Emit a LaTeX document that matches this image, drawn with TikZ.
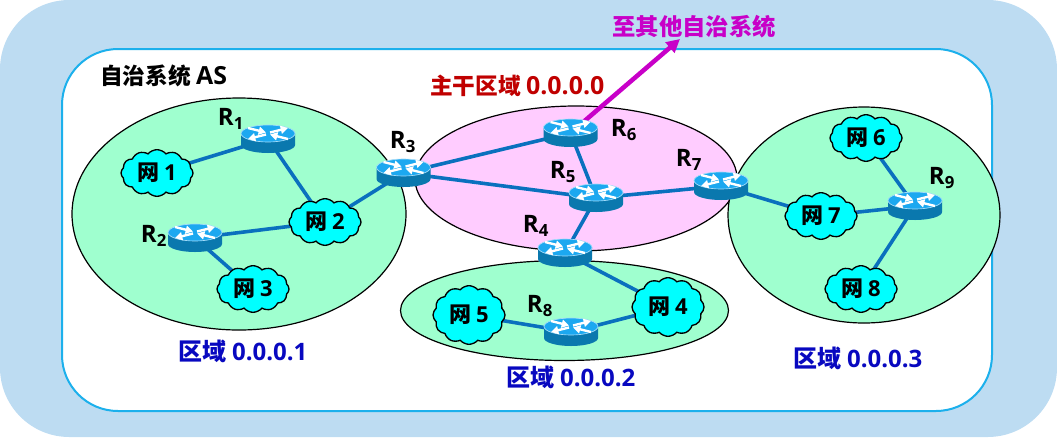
\documentclass[tikz,border=0pt]{standalone}
\usepackage{fontspec}
\setmainfont{Noto Sans CJK SC}
\newfontfamily\lat{Open Sans}
\newfontfamily\latbig[Scale=1.1]{Open Sans}
\usetikzlibrary{shapes.symbols,shapes.geometric,arrows.meta}
\pgfdeclarelayer{areas}
\pgfdeclarelayer{links}
\pgfsetlayers{areas,links,main}
\definecolor{bgblue}{HTML}{BDDCF2}
\definecolor{asline}{HTML}{1CB0EC}
\definecolor{areagreen}{HTML}{9FFFCF}
\definecolor{areapink}{HTML}{FFCCFF}
\definecolor{linkblue}{HTML}{0A70BE}
\definecolor{cloudcyan}{HTML}{00FFFF}
\definecolor{rtop}{HTML}{1CA8F0}
\definecolor{rside}{HTML}{0A78AE}
\definecolor{titlered}{HTML}{C00000}
\definecolor{areablue}{HTML}{0808C0}
\definecolor{arrowmag}{HTML}{C800C8}
\tikzset{
  x=0.75pt,y=-0.75pt,
  area/.style={draw=black,line width=0.9pt},
  rnode/.style={inner sep=0pt,minimum width=39pt,minimum height=20pt,ellipse},
  link/.style={draw=linkblue,line width=2.7pt},
  net/.style={cloud,cloud puffs=12,cloud puff arc=100,cloud ignores aspect,draw=black,fill=cloudcyan,line width=1pt,inner sep=0pt,minimum width=54pt,minimum height=35pt,font=\fontsize{16.5}{17}\selectfont\bfseries},
  nettall/.style={net,minimum height=44pt},
  rlabel/.style={font=\lat\fontsize{18}{19}\selectfont\bfseries,inner sep=0pt},
  arealabel/.style={font=\fontsize{18}{19}\selectfont\bfseries,inner sep=0pt,text=areablue},
  rarrow/.style={white,line width=1.8pt,-{Triangle[length=5.5pt,width=6pt]}},
}
\newcommand{\drawrouter}[1]{%
  \begin{scope}[shift={(#1)}]
    \fill[rside] (-27,-5.5) -- (-27,6) arc[start angle=180,end angle=0,x radius=27,y radius=8] -- (27,-5.5) -- cycle;
    \fill[rtop,draw=white!60!rtop,line width=0.5pt] (0,-5.5) ellipse[x radius=27,y radius=8.5];
    \draw[rarrow] (2,-6.5) -- (20,-11);
    \draw[rarrow] (-2,-4.5) -- (-20,0);
    \draw[rarrow] (-20,-11) -- (-2,-6.5);
    \draw[rarrow] (20,0) -- (2,-4.5);
  \end{scope}}
\begin{document}
\begin{tikzpicture}
\useasboundingbox (0,0) rectangle (1057,437);
\begin{pgfonlayer}{areas}
\fill[bgblue,rounded corners=52pt] (0,0) rectangle (1057,437);
\draw[asline,fill=white,line width=1.5pt,rounded corners=42pt] (62,49) rectangle (992,411);
\draw[area,fill=areagreen] (239,214) ellipse[x radius=167,y radius=116];
\draw[area,fill=areapink] (576,178.5) ellipse[x radius=161,y radius=72.5];
\draw[area,fill=areagreen] (564.5,310.5) ellipse[x radius=164,y radius=50];
\draw[area,fill=areagreen] (864,215) ellipse[x radius=136,y radius=108];
\end{pgfonlayer}
\node[rnode] (r1) at (268,139) {};
\node[rnode] (r2) at (195,238) {};
\node[rnode] (r3) at (403.5,173) {};
\node[rnode] (r4) at (565,253) {};
\node[rnode] (r5) at (596,198) {};
\node[rnode] (r6) at (570.5,133) {};
\node[rnode] (r7) at (721,186) {};
\node[rnode] (r8) at (571,332) {};
\node[rnode] (r9) at (915,206) {};
\node[net] (n1) at (157,173) {网 {\lat 1}};
\node[net] (n2) at (325,222) {网 {\lat 2}};
\node[net] (n3) at (253,289) {网 {\lat 3}};
\node[nettall] (n4) at (668,307) {网 {\lat 4}};
\node[nettall] (n5) at (469,315) {网 {\lat 5}};
\node[net] (n6) at (866,138) {网 {\lat 6}};
\node[net] (n7) at (821,216) {网 {\lat 7}};
\node[net] (n8) at (861,289) {网 {\lat 8}};
\node[inner sep=0pt,font=\fontsize{17.5}{18}\selectfont\bfseries,text=arrowmag] (out) at (694,27) {至其他自治系统};
\coordinate (outtip) at (680,39);
\begin{pgfonlayer}{links}
\draw[link] (n1.center) -- (r1.center);
\draw[link] (r1.center) -- (n2.center);
\draw[link] (r2.center) -- (n2.center);
\draw[link] (r2.center) -- (n3.center);
\draw[link] (n2.center) -- (r3.center);
\draw[link] (r3.center) -- (r6.center);
\draw[link] (r3.center) -- (r5.center);
\draw[link] (r6.center) -- (r5.center);
\draw[link] (r5.center) -- (r7.center);
\draw[link] (r5.center) -- (r4.center);
\draw[link] (r4.center) -- (n4.center);
\draw[link] (n5.center) -- (r8.center);
\draw[link] (r8.center) -- (n4.center);
\draw[link] (r7.center) -- (n7.center);
\draw[link] (n7.center) -- (r9.center);
\draw[link] (n6.center) -- (r9.center);
\draw[link] (r9.center) -- (n8.center);
\draw[arrowmag,line width=3.4pt,-{Triangle[length=10pt,width=10pt]}] (r6.center) -- (outtip);
\end{pgfonlayer}
\foreach \r in {r1,r2,r3,r4,r5,r6,r7,r8,r9}{\drawrouter{\r}}
\node[rlabel] (l1) at (231,119) {R\textsubscript{1}};
\node[rlabel] (l2) at (154,236) {R\textsubscript{2}};
\node[rlabel] (l3) at (403,142) {R\textsubscript{3}};
\node[rlabel] (l4) at (536,226) {R\textsubscript{4}};
\node[rlabel] (l5) at (563,172) {R\textsubscript{5}};
\node[rlabel] (l6) at (624,130) {R\textsubscript{6}};
\node[rlabel] (l7) at (689,160) {R\textsubscript{7}};
\node[rlabel] (l8) at (540,306) {R\textsubscript{8}};
\node[rlabel] (l9) at (942,178) {R\textsubscript{9}};
\node[inner sep=0pt,font=\fontsize{17}{18}\selectfont\bfseries,anchor=west] (as) at (100,76) {自治系统 {\latbig AS}};
\node[inner sep=0pt,font=\fontsize{17}{18}\selectfont\bfseries,text=titlered,anchor=west] (bb) at (430,86) {主干区域 {\latbig 0.0.0.0}};
\node[arealabel] (a1) at (243,351) {区域 {\lat 0.0.0.1}};
\node[arealabel] (a2) at (571,377) {区域 {\lat 0.0.0.2}};
\node[arealabel] (a3) at (858,358) {区域 {\lat 0.0.0.3}};
\end{tikzpicture}
\end{document}
